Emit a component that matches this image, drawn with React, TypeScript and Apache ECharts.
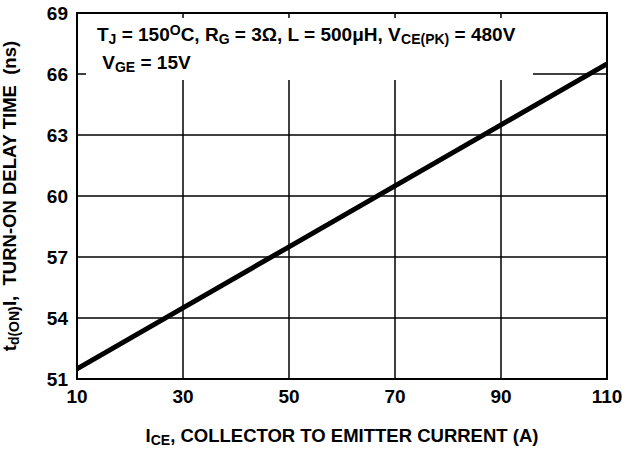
import React, { useEffect, useRef } from "react";
import * as echarts from "echarts";

const currents = [10, 30, 50, 70, 90, 110];
const delayTimes = [51.5, 54.5, 57.5, 60.5, 63.5, 66.5];
const xTicks = [10, 30, 50, 70, 90, 110];
const yTicks = [51, 54, 57, 60, 63, 66, 69];

const FONT = "'Liberation Sans', Arial, Helvetica, sans-serif";

export default function App() {
  const ref = useRef<HTMLDivElement>(null);
  useEffect(() => {
    if (!ref.current) return;
    const chart = echarts.init(ref.current, null, { renderer: "svg" });
    const base = { fontWeight: "bold", fontFamily: FONT, color: "#000" };
    const main = { ...base, fontSize: 19, lineHeight: 28, verticalAlign: "middle" };
    const sub = { ...base, fontSize: 14, lineHeight: 28, verticalAlign: "bottom", padding: [0, 0, 2, 0] };
    const sup = { ...base, fontSize: 14, lineHeight: 28, verticalAlign: "top", padding: [3, 0, 0, 0] };
    const nameMain = { ...base, fontSize: 18.5, lineHeight: 24, verticalAlign: "middle" };
    const nameSub = { ...base, fontSize: 14, lineHeight: 24, verticalAlign: "bottom" };
    const option: any = {
      animation: false,
      backgroundColor: "#fff",
      grid: {
        left: 77, right: 15, top: 13, bottom: 71,
        outerBoundsMode: "none",
        containLabel: false,
        show: true, borderColor: "#000", borderWidth: 2, backgroundColor: "transparent",
      },
      xAxis: {
        type: "value",
        min: xTicks[0],
        max: xTicks[xTicks.length - 1],
        interval: 20,
        axisLine: { show: true, lineStyle: { color: "#000", width: 2 } },
        axisTick: { show: false },
        splitLine: { show: true, lineStyle: { color: "#000", width: 1.5 } },
        axisLabel: { fontSize: 19, fontWeight: "bold", fontFamily: FONT, color: "#000", margin: 8 },
        name: "{m|I}{s|CE}{m|, COLLECTOR TO EMITTER CURRENT (A)}",
        nameLocation: "middle",
        nameGap: 44,
        nameTextStyle: { rich: { m: nameMain, s: nameSub } },
      },
      yAxis: {
        type: "value",
        min: yTicks[0],
        max: yTicks[yTicks.length - 1],
        interval: 3,
        axisLine: { show: true, lineStyle: { color: "#000", width: 2 } },
        axisTick: { show: false },
        splitLine: { show: true, lineStyle: { color: "#000", width: 1.5 } },
        axisLabel: { fontSize: 19, fontWeight: "bold", fontFamily: FONT, color: "#000", margin: 9 },
        name: "{m|t}{s|d(ON)}{m|I,  TURN-ON DELAY TIME  (ns)}",
        nameLocation: "middle",
        nameRotate: 90,
        nameGap: 56,
        nameTextStyle: { rich: { m: nameMain, s: nameSub } },
      },
      graphic: [
        { type: "rect", z: 1, shape: { x: 86, y: 18, width: 447, height: 62 }, style: { fill: "#fff" } },
        {
          type: "text",
          z: 5,
          left: 97,
          top: 20,
          style: {
            text: "{m|T}{s|J}{m| = 150}{p|O}{m|C, R}{s|G}{m| = 3Ω, L = 500μH, V}{s|CE(PK)}{m| = 480V}\n{m| V}{s|GE}{m| = 15V}",
            rich: { m: main, s: sub, p: sup },
          },
        },
      ],
      series: [
        {
          type: "line",
          data: currents.map((c, i) => [c, delayTimes[i]]),
          showSymbol: false,
          lineStyle: { color: "#000", width: 5 },
          z: 3,
        },
      ],
    };
    chart.setOption(option);
    return () => chart.dispose();
  }, []);
  return <div ref={ref} style={{ width: 622, height: 450, position: "absolute", left: 0, top: 0 }} />;
}
